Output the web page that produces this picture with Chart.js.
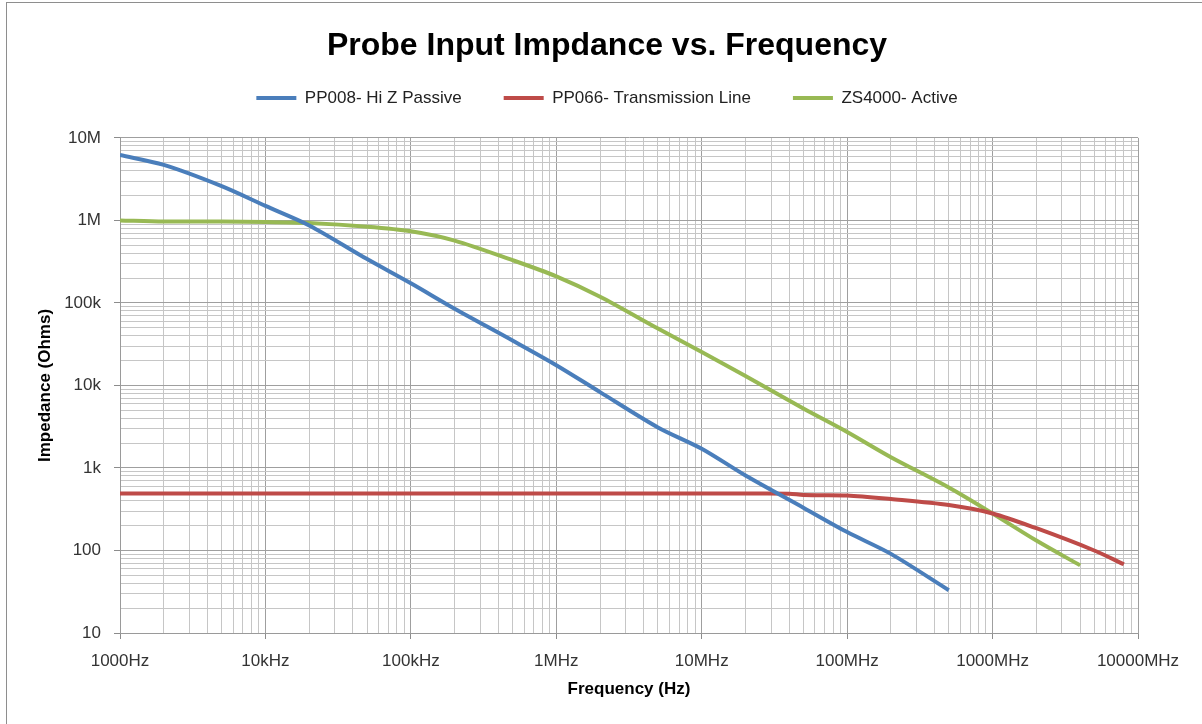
<!DOCTYPE html>
<html>
<head>
<meta charset="utf-8">
<title>Probe Input Impdance vs. Frequency</title>
<script src="https://cdn.jsdelivr.net/npm/chart.js@4.4.0/dist/chart.umd.min.js"></script>
<style>
  html, body { margin: 0; padding: 0; background: #fff; overflow: hidden; }
  #frame { position: absolute; left: 6px; top: 2px; width: 1300px; height: 800px; border: 1px solid #8e8e8e; }
  #wrap { position: absolute; left: 0; top: 0; width: 1202px; height: 724px; }
</style>
</head>
<body>
<div id="frame"></div>
<div id="wrap"><canvas id="impChart" width="1202" height="724"></canvas></div>
<script>
// tick labels (one per decade)
const xTickLabels = ["1000Hz", "10kHz", "100kHz", "1MHz", "10MHz", "100MHz", "1000MHz", "10000MHz"];
const yTickLabels = ["10", "100", "1k", "10k", "100k", "1M", "10M"];

// PP008 - Hi Z passive
const freqPP008 = [1e3, 2e3, 5e3, 1e4, 2e4, 5e4, 1e5, 2e5, 5e5, 1e6, 2e6, 5e6, 1e7, 2e7, 5e7, 1e8, 2e8, 5e8];
const zPP008 = [6.2e6, 4.7e6, 2.6e6, 1.5e6, 8.7e5, 3.4e5, 1.73e5, 8.5e4, 3.5e4, 1.76e4, 8.3e3, 3.1e3, 1.71e3, 810, 330, 167, 91, 33];

// PP066 - transmission line
const freqPP066 = [1e3, 1e4, 1e5, 1e6, 1e7, 2e7, 4e7, 5e7, 1e8, 2e8, 5e8, 1e9, 2e9, 5e9, 8e9];
const zPP066 = [490, 490, 490, 490, 490, 490, 488, 470, 465, 420, 355, 281, 186, 100, 68];

// ZS4000 - active
const freqZS4000 = [1e3, 2e3, 5e3, 1e4, 2e4, 5e4, 1e5, 2e5, 5e5, 1e6, 2e6, 5e6, 1e7, 2e7, 5e7, 1e8, 2e8, 5e8, 1e9, 2e9, 4e9];
const zZS4000 = [1.0e6, 0.97e6, 0.97e6, 0.96e6, 0.93e6, 0.84e6, 0.74e6, 0.57e6, 0.33e6, 2.1e5, 1.19e5, 4.9e4, 2.55e4, 1.3e4, 5.25e3, 2.73e3, 1.35e3, 580, 281, 132, 66];

function pts(xs, ys) {
  return xs.map((x, i) => ({ x: x, y: ys[i] }));
}

// 1..9 x 10^n for every decade, so minor grid lines show up like in excel
function logTicks(minExp, maxExp) {
  const t = [];
  for (let e = minExp; e < maxExp; e++) {
    for (let m = 1; m < 10; m++) {
      t.push({ value: m * Math.pow(10, e) });
    }
  }
  t.push({ value: Math.pow(10, maxExp) });
  return t;
}

function isDecade(v) {
  const l = Math.log10(v);
  return Math.abs(l - Math.round(l)) < 1e-9;
}

const gridOpts = {
  color: (c) => (c.tick && isDecade(c.tick.value) ? "#9f9f9f" : "#c6c6c6"),
  tickColor: (c) => (c.tick && isDecade(c.tick.value) ? "#8c8c8c" : "rgba(0,0,0,0)"),
  tickLength: 6,
  lineWidth: 1,
};

// push the plot area down a bit under the legend
const legendSpacer = {
  id: "legendSpacer",
  beforeLayout(chart) {
    if (chart.legend && !chart.legend.spacerDone) {
      const origFit = chart.legend.fit;
      chart.legend.fit = function () {
        origFit.call(this);
        this.height += 21.5;
      };
      chart.legend.spacerDone = true;
    }
  },
};

Chart.defaults.font.family = "'Liberation Sans', Arial, sans-serif";

const ctx = document.getElementById("impChart").getContext("2d");
new Chart(ctx, {
  type: "line",
  data: {
    datasets: [
      {
        label: "PP008- Hi Z Passive",
        data: pts(freqPP008, zPP008),
        borderColor: "#4a7ebb",
        backgroundColor: "#4a7ebb",
        borderWidth: 4,
        pointRadius: 0,
        tension: 0.3,
      },
      {
        label: "PP066- Transmission Line",
        data: pts(freqPP066, zPP066),
        borderColor: "#be4b48",
        backgroundColor: "#be4b48",
        borderWidth: 4,
        pointRadius: 0,
        tension: 0.3,
      },
      {
        label: "ZS4000- Active",
        data: pts(freqZS4000, zZS4000),
        borderColor: "#98b954",
        backgroundColor: "#98b954",
        borderWidth: 4,
        pointRadius: 0,
        tension: 0.3,
      },
    ],
  },
  options: {
    responsive: false,
    animation: false,
    events: [],
    layout: { padding: { left: 16, right: 4, top: 0, bottom: 0 } },
    plugins: {
      title: {
        display: true,
        text: "Probe Input Impdance vs. Frequency",
        color: "#000",
        font: { size: 32, weight: "bold" },
        padding: { top: 27, bottom: -18 },
      },
      legend: {
        position: "top",
        labels: {
          usePointStyle: true,
          pointStyle: "line",
          pointStyleWidth: 40,
          padding: 42,
          color: "#222",
          font: { size: 17 },
        },
      },
      tooltip: { enabled: false },
    },
    scales: {
      x: {
        type: "logarithmic",
        min: 1e3,
        max: 1e10,
        afterBuildTicks: (s) => {
          s.ticks = logTicks(3, 10);
        },
        afterFit: (s) => {
          s.height = 91;
          s.paddingRight = 64;
          s.paddingLeft = 0;
        },
        ticks: {
          autoSkip: false,
          maxRotation: 0,
          minRotation: 0,
          padding: 12,
          color: "#333",
          font: { size: 17 },
          callback: (v) => (isDecade(v) ? xTickLabels[Math.round(Math.log10(v)) - 3] : ""),
        },
        grid: gridOpts,
        border: { color: "#9a9a9a" },
        title: {
          display: true,
          text: "Frequency (Hz)",
          color: "#000",
          font: { size: 17, weight: "bold" },
          padding: { top: 0, bottom: 24 },
        },
      },
      y: {
        type: "logarithmic",
        min: 10,
        max: 1e7,
        afterBuildTicks: (s) => {
          s.ticks = logTicks(1, 7);
        },
        afterFit: (s) => {
          s.width = 104;
        },
        ticks: {
          autoSkip: false,
          padding: 13,
          color: "#333",
          font: { size: 17 },
          callback: (v) => (isDecade(v) ? yTickLabels[Math.round(Math.log10(v)) - 1] : ""),
        },
        grid: gridOpts,
        border: { color: "#9a9a9a" },
        title: {
          display: true,
          text: "Impedance (Ohms)",
          color: "#000",
          font: { size: 17, weight: "bold" },
          padding: { top: 19, bottom: 0 },
        },
      },
    },
  },
  plugins: [legendSpacer],
});
</script>
</body>
</html>
